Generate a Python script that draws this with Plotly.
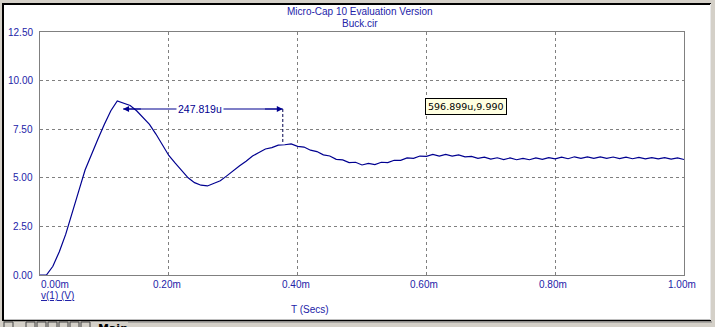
import plotly.graph_objects as go

# ---- data (time in ms, voltage in V) ----
t_ms = [0.00, 0.01, 0.02, 0.03, 0.04, 0.05, 0.06, 0.07, 0.08, 0.09,
        0.10, 0.11, 0.12, 0.13, 0.14, 0.15, 0.16, 0.17, 0.18, 0.19,
        0.20, 0.21, 0.22, 0.23, 0.24, 0.25, 0.26, 0.27, 0.28, 0.29,
        0.30, 0.31, 0.32, 0.33, 0.34, 0.35, 0.36, 0.37, 0.38, 0.39,
        0.40, 0.41, 0.42, 0.43, 0.44, 0.45, 0.46, 0.47, 0.48, 0.49,
        0.50, 0.51, 0.52, 0.53, 0.54, 0.55, 0.56, 0.57, 0.58, 0.59,
        0.60, 0.61, 0.62, 0.63, 0.64, 0.65, 0.66, 0.67, 0.68, 0.69,
        0.70, 0.71, 0.72, 0.73, 0.74, 0.75, 0.76, 0.77, 0.78, 0.79,
        0.80, 0.81, 0.82, 0.83, 0.84, 0.85, 0.86, 0.87, 0.88, 0.89,
        0.90, 0.91, 0.92, 0.93, 0.94, 0.95, 0.96, 0.97, 0.98, 0.99, 1.00]
v_out = [0.00, 0.00, 0.45, 1.20, 2.10, 3.15, 4.30, 5.40, 6.25, 7.00,
         7.75, 8.45, 8.95, 8.85, 8.72, 8.45, 8.10, 7.75, 7.25, 6.70,
         6.15, 5.75, 5.40, 5.00, 4.75, 4.62, 4.58, 4.72, 4.85, 5.10,
         5.38, 5.62, 5.85, 6.12, 6.30, 6.48, 6.55, 6.68, 6.70, 6.74,
         6.62, 6.58, 6.42, 6.35, 6.18, 6.12, 5.95, 5.92, 5.78, 5.80,
         5.66, 5.74, 5.68, 5.80, 5.78, 5.90, 5.90, 6.02, 6.00, 6.12,
         6.10, 6.20, 6.12, 6.20, 6.12, 6.18, 6.08, 6.10, 6.00, 6.06,
         5.96, 6.03, 5.94, 6.02, 5.93, 6.00, 5.93, 6.02, 5.95, 6.04,
         5.97, 6.06, 5.98, 6.08, 6.00, 6.08, 6.00, 6.08, 6.00, 6.07,
         5.99, 6.06, 5.98, 6.05, 5.97, 6.04, 5.97, 6.04, 5.96, 6.02, 5.94]

x_ticks = [0.0, 0.2, 0.4, 0.6, 0.8, 1.0]
x_ticklabels = ["0.00m", "0.20m", "0.40m", "0.60m", "0.80m", "1.00m"]
y_ticks = [0.0, 2.5, 5.0, 7.5, 10.0, 12.5]
y_ticklabels = ["0.00", "2.50", "5.00", "7.50", "10.00", "12.50"]

cursor_t = [0.129, 0.377]        # ms
cursor_level = 8.54              # V (height of the dimension arrow)
cursor_curve_v = 6.74            # V where the right cursor meets the curve
delta_label = "247.819u"
readout_pos = [0.6615, 8.67]
readout_text = "596.899u,9.990"

title1 = "Micro-Cap 10 Evaluation Version"
title2 = "Buck.cir"

W, H = 715, 327
L, R, T, B = 40, 684, 32, 275
BLUE = "#2323a8"
NAVY = "#000090"
FONT = "Liberation Sans, Arial, sans-serif"


def px(x):
    return (x - L) / (R - L)


def py(y):
    return (B - y) / (B - T)


fig = go.Figure()
fig.add_trace(go.Scatter(x=t_ms, y=v_out, mode="lines",
                         line=dict(color=NAVY, width=1.2),
                         hoverinfo="skip", showlegend=False))

shapes = []
# white window panel
shapes.append(dict(type="rect", xref="paper", yref="paper", layer="below",
                   x0=px(3), x1=px(710), y0=py(320), y1=py(4),
                   fillcolor="white", line=dict(width=0)))
# sunken border lines
shapes.append(dict(type="line", xref="paper", yref="paper", layer="above",
                   x0=px(2), x1=px(711), y0=py(4), y1=py(4),
                   line=dict(color="black", width=2)))
shapes.append(dict(type="line", xref="paper", yref="paper", layer="above",
                   x0=px(3), x1=px(3), y0=py(4), y1=py(321),
                   line=dict(color="black", width=2)))
shapes.append(dict(type="line", xref="paper", yref="paper", layer="above",
                   x0=px(3), x1=px(711), y0=py(320.5), y1=py(320.5),
                   line=dict(color="black", width=1.5)))
shapes.append(dict(type="line", xref="paper", yref="paper", layer="above",
                   x0=px(710.5), x1=px(710.5), y0=py(4), y1=py(320),
                   line=dict(color="#e8e8e8", width=1)))
# tab bar buttons
for bx in [3, 25, 36, 47, 58, 69, 80]:
    shapes.append(dict(type="rect", xref="paper", yref="paper", layer="above",
                       x0=px(bx + 1), x1=px(bx + 10), y0=py(328), y1=py(322),
                       fillcolor="#d4d0c8", line=dict(color="#404040", width=1)))
shapes.append(dict(type="line", xref="paper", yref="paper", layer="above",
                   x0=px(128), x1=px(712), y0=py(322), y1=py(322),
                   line=dict(color="#808080", width=1)))
# right cursor dashed drop line
shapes.append(dict(type="line", xref="x", yref="y",
                   x0=cursor_t[1], x1=cursor_t[1],
                   y0=cursor_level, y1=cursor_curve_v,
                   line=dict(color="#000050", width=1, dash="3px,2px")))
# dimension line
shapes.append(dict(type="line", xref="x", yref="y",
                   x0=cursor_t[0], x1=cursor_t[1],
                   y0=cursor_level, y1=cursor_level,
                   line=dict(color=NAVY, width=1.2)))


def ptext(text, x, y, xanchor="center", yanchor="middle", size=10,
          color=BLUE, family=FONT):
    return dict(text=text, x=px(x), y=py(y), xref="paper", yref="paper",
                xanchor=xanchor, yanchor=yanchor, showarrow=False,
                font=dict(family=family, size=size, color=color))


ann = []
ann.append(ptext(title1, 360, 12))
ann.append(ptext(title2, 360, 24))
for xv, lab in zip(x_ticks, x_ticklabels):
    ann.append(dict(text=lab, x=xv, y=0, xref="x", yref="paper",
                    yshift=-9, showarrow=False, yanchor="middle",
                    xanchor="left" if xv == x_ticks[0] else "center",
                    xshift=-1 if xv == x_ticks[0] else -2,
                    font=dict(family=FONT, size=10, color=BLUE)))
for yv, lab in zip(y_ticks, y_ticklabels):
    ann.append(dict(text=lab, x=0, y=yv, xref="paper", yref="y",
                    xanchor="right", yanchor="middle", xshift=-5,
                    showarrow=False,
                    font=dict(family=FONT, size=10, color=BLUE)))
ann.append(ptext("<u>v(1) (V)</u>", 39, 295, xanchor="left"))
ann.append(ptext("T (Secs)", 310, 309))
# arrowheads
ann.append(dict(x=cursor_t[0], y=cursor_level, ax=cursor_t[0] + 0.03,
                ay=cursor_level, axref="x", ayref="y", xref="x", yref="y",
                text="", showarrow=True, arrowhead=2, arrowsize=1,
                arrowwidth=1.2, arrowcolor=NAVY))
ann.append(dict(x=cursor_t[1], y=cursor_level, ax=cursor_t[1] - 0.03,
                ay=cursor_level, axref="x", ayref="y", xref="x", yref="y",
                text="", showarrow=True, arrowhead=2, arrowsize=1,
                arrowwidth=1.2, arrowcolor=NAVY))
ann.append(dict(text=delta_label, x=(cursor_t[0] + cursor_t[1]) / 2,
                y=cursor_level, xref="x", yref="y", showarrow=False,
                bgcolor="white", borderpad=1, xshift=-3,
                font=dict(family=FONT, size=10.5, color=NAVY)))
ann.append(dict(text=readout_text, x=readout_pos[0], y=readout_pos[1],
                xref="x", yref="y", showarrow=False, bgcolor="#ffffe1",
                bordercolor="black", borderwidth=1, borderpad=2,
                font=dict(family="DejaVu Sans, sans-serif", size=9.5,
                          color="black")))
ann.append(ptext("<b>Main</b>", 96, 320, xanchor="left", yanchor="top",
                 size=11, color="black", family="DejaVu Sans, sans-serif"))

fig.update_layout(
    width=W, height=H,
    margin=dict(l=L, r=W - R, t=T, b=H - B, pad=0),
    paper_bgcolor="#d4d0c8", plot_bgcolor="white",
    shapes=shapes, annotations=ann, showlegend=False,
    xaxis=dict(range=[0, 1.0], tickvals=x_ticks[1:-1], showticklabels=False,
               showgrid=True, gridcolor="#808080", griddash="3px,3px",
               gridwidth=1, zeroline=False, showline=True,
               linecolor="#808080", linewidth=1, mirror=True, ticks=""),
    yaxis=dict(range=[0, 12.5], tickvals=y_ticks[1:-1], showticklabels=False,
               showgrid=True, gridcolor="#808080", griddash="3px,3px",
               gridwidth=1, zeroline=False, showline=True,
               linecolor="#808080", linewidth=1, mirror=True, ticks=""),
)

fig.write_html("out.html")
